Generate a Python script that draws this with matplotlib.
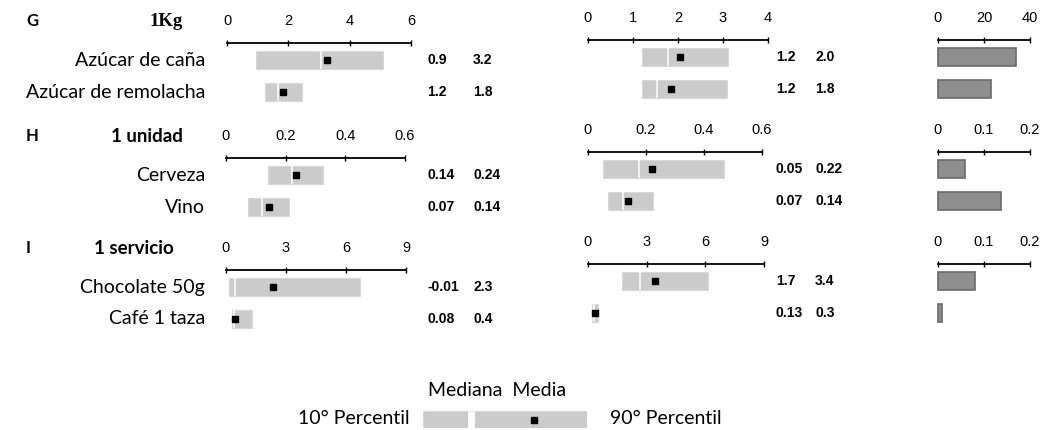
import matplotlib
matplotlib.use('Agg')
import matplotlib.pyplot as plt

# --- data ---
groups = ['G', 'H', 'I']
units = ['1Kg', '1 unidad', '1 servicio']
items = [['Azúcar de caña', 'Azúcar de remolacha'],
         ['Cerveza', 'Vino'],
         ['Chocolate 50g', 'Café 1 taza']]

# left column: 10th percentile, median, mean, 90th percentile
left_p10 = [[0.94, 1.24], [0.14, 0.074], [0.15, 0.3]]
left_med = [[3.05, 1.65], [0.22, 0.12], [0.45, 0.4]]
left_mean = [[3.25, 1.82], [0.235, 0.145], [2.35, 0.45]]
left_p90 = [[5.1, 2.44], [0.325, 0.21], [6.7, 1.3]]
left_ticks = [[0, 2, 4, 6], [0, 0.2, 0.4, 0.6], [0, 3, 6, 9]]
left_ticklabels = [['0', '2', '4', '6'], ['0', '0.2', '0.4', '0.6'], ['0', '3', '6', '9']]
left_nums = [[['0.9', '3.2'], ['1.2', '1.8']],
             [['0.14', '0.24'], ['0.07', '0.14']],
             [['-0.01', '2.3'], ['0.08', '0.4']]]

# middle column
mid_p10 = [[1.2, 1.2], [0.052, 0.069], [1.74, 0.2]]
mid_med = [[1.78, 1.53], [0.176, 0.12], [2.67, 0.3]]
mid_mean = [[2.04, 1.84], [0.22, 0.138], [3.44, 0.36]]
mid_p90 = [[3.1, 3.09], [0.47, 0.224], [6.15, 0.5]]
mid_ticks = [[0, 1, 2, 3, 4], [0, 0.2, 0.4, 0.6], [0, 3, 6, 9]]
mid_ticklabels = [['0', '1', '2', '3', '4'], ['0', '0.2', '0.4', '0.6'], ['0', '3', '6', '9']]
mid_nums = [[['1.2', '2.0'], ['1.2', '1.8']],
            [['0.05', '0.22'], ['0.07', '0.14']],
            [['1.7', '3.4'], ['0.13', '0.3']]]

# right column
right_vals = [[34, 23], [0.058, 0.137], [0.08, 0.008]]
right_ticks = [[0, 20, 40], [0, 0.1, 0.2], [0, 0.1, 0.2]]
right_ticklabels = [['0', '20', '40'], ['0', '0.1', '0.2'], ['0', '0.1', '0.2']]

# legend sample
legend_p10, legend_med, legend_mean, legend_p90 = 0, 1.0, 2.3, 3.4

W, H = 1055, 430
fig = plt.figure(figsize=(W / 100, H / 100), dpi=100)

LABEL_FONT = 'Lato'
NUM_FONT = 'Liberation Sans'
BAR = '#cbcbcb'


def add_px_axes(x0, x1, ytop, height):
    return fig.add_axes([x0 / W, 1 - (ytop + height) / H, (x1 - x0) / W, height / H])


def style_axis(ax, ticks, ticklabels):
    ax.set_xlim(ticks[0], ticks[-1])
    ax.set_ylim(1.97, -0.53)
    for s in ['bottom', 'left', 'right']:
        ax.spines[s].set_visible(False)
    ax.spines['top'].set_linewidth(1.3)
    ax.xaxis.tick_top()
    ax.set_xticks(ticks)
    ax.set_xticklabels(ticklabels, fontfamily=NUM_FONT, fontsize=10.5)
    ax.tick_params(axis='x', direction='inout', length=5, width=1, pad=8)
    ax.set_yticks([])
    ax.patch.set_alpha(0)


def range_bars(ax, p10, med, mean, p90, gap=1.5):
    ys = list(range(len(p10)))
    h = 0.55
    ax.barh(ys, [m - a for a, m in zip(p10, med)], left=p10, height=h,
            color=BAR, edgecolor='#d8d8d8', lw=0.8, clip_on=False)
    ax.barh(ys, [b - m for m, b in zip(med, p90)], left=med, height=h,
            color=BAR, edgecolor='#d8d8d8', lw=0.8, clip_on=False)
    ax.vlines(med, [y - h / 2 for y in ys], [y + h / 2 for y in ys],
              color='#f2f2f2', lw=gap, clip_on=False)
    ax.plot(mean, ys, 's', color='black', ms=4, clip_on=False)


left_x = [(227, 411), (226, 405), (226, 406)]
left_y = [43, 158, 270]
mid_x = [(588, 768), (588, 762), (588, 764)]
mid_y = [40, 152, 264]
right_x = [(938, 1030), (938, 1030), (938, 1030)]
right_y = [40, 152, 264]

for g in range(3):
    # left panel
    ax = add_px_axes(left_x[g][0], left_x[g][1], left_y[g], 80)
    style_axis(ax, left_ticks[g], left_ticklabels[g])
    range_bars(ax, left_p10[g], left_med[g], left_mean[g], left_p90[g])
    for i in range(2):
        yc = left_y[g] + 17 + 32 * i
        fig.text(205 / W, 1 - yc / H, items[g][i], ha='right', va='center',
                 fontfamily=LABEL_FONT, fontsize=14)
        fig.text(427 / W, 1 - yc / H, left_nums[g][i][0], ha='left', va='center',
                 fontfamily=NUM_FONT, fontsize=10, fontweight='bold')
        fig.text(473 / W, 1 - yc / H, left_nums[g][i][1], ha='left', va='center',
                 fontfamily=NUM_FONT, fontsize=10, fontweight='bold')

    # middle panel
    ax = add_px_axes(mid_x[g][0], mid_x[g][1], mid_y[g], 80)
    style_axis(ax, mid_ticks[g], mid_ticklabels[g])
    range_bars(ax, mid_p10[g], mid_med[g], mid_mean[g], mid_p90[g])
    for i in range(2):
        yc = mid_y[g] + 17 + 32 * i
        fig.text(776 / W, 1 - yc / H, mid_nums[g][i][0], ha='left', va='center',
                 fontfamily=NUM_FONT, fontsize=10, fontweight='bold')
        fig.text(815 / W, 1 - yc / H, mid_nums[g][i][1], ha='left', va='center',
                 fontfamily=NUM_FONT, fontsize=10, fontweight='bold')

    # right panel
    ax = add_px_axes(right_x[g][0], right_x[g][1], right_y[g], 80)
    style_axis(ax, right_ticks[g], right_ticklabels[g])
    ax.barh([0, 1], right_vals[g], height=0.55, color='#8e8e8e',
            edgecolor='#6a6a6a', lw=1.2, clip_on=False)

    # group letter and unit
    ty = left_y[g] - 22
    fig.text(26 / W, 1 - ty / H, groups[g], ha='left', va='center',
             fontfamily=LABEL_FONT, fontsize=12, fontweight='bold')
    if g == 0:
        fig.text(183 / W, 1 - ty / H, units[g], ha='right', va='center',
                 fontfamily='Liberation Serif', fontsize=13.5, fontweight='bold')
    else:
        fig.text((183 if g == 1 else 174) / W, 1 - ty / H, units[g], ha='right',
                 va='center', fontfamily=LABEL_FONT, fontsize=13.5, fontweight='bold')

# legend
lax = add_px_axes(423, 587, 411, 17)
lax.set_xlim(legend_p10, legend_p90)
lax.set_ylim(0.5, -0.5)
lax.axis('off')
lax.barh([0], [legend_med - legend_p10], left=[legend_p10], height=1, color=BAR,
         edgecolor='#d8d8d8', lw=0.8)
lax.barh([0], [legend_p90 - legend_med], left=[legend_med], height=1, color=BAR,
         edgecolor='#d8d8d8', lw=0.8)
lax.vlines([legend_med], -0.5, 0.5, color='white', lw=5)
lax.plot([legend_mean], [0], 's', color='black', ms=4)

fig.text(428 / W, 1 - 390 / H, 'Mediana  Media', ha='left', va='center',
         fontfamily=LABEL_FONT, fontsize=14)
fig.text(410 / W, 1 - 419 / H, '10° Percentil', ha='right', va='center',
         fontfamily=LABEL_FONT, fontsize=14)
fig.text(610 / W, 1 - 419 / H, '90° Percentil', ha='left', va='center',
         fontfamily=LABEL_FONT, fontsize=14)

fig.savefig('out.png', dpi=100)
